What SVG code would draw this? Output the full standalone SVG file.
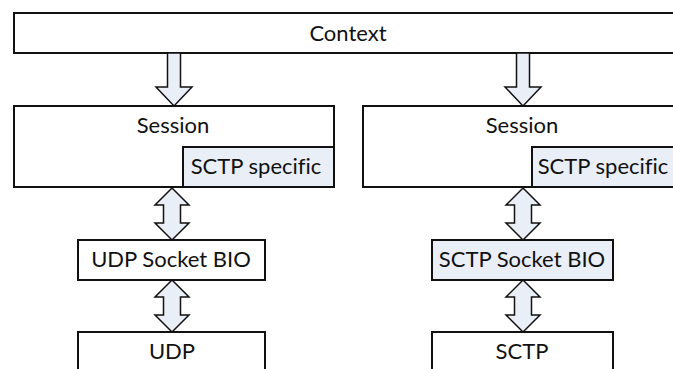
<svg xmlns="http://www.w3.org/2000/svg" width="673" height="369" viewBox="0 0 673 369">
  <style>
    .box { fill: #ffffff; stroke: #111111; stroke-width: 2; }
    .tint { fill: #e9eef7; stroke: #111111; stroke-width: 2; }
    .arrow { fill: #e9eef7; stroke: #111111; stroke-width: 1.5; stroke-linejoin: miter; }
    text { font-family: Lato, "Liberation Sans", sans-serif; font-size: 22px; fill: #111111; text-anchor: middle; font-variant-ligatures: none; }
  </style>
  <defs>
    <!-- down arrow, tip at origin -->
    <path id="down" d="M -6.5 -53 L 6.5 -53 L 6.5 -19 L 18 -19 L 0 0 L -18 -19 L -6.5 -19 Z"/>
    <!-- two-way vertical arrow, top tip at origin, 52 tall -->
    <path id="both" d="M 0 0 L 17 17 L 8.5 17 L 8.5 35 L 17 35 L 0 52 L -17 35 L -8.5 35 L -8.5 17 L -17 17 Z"/>
  </defs>

  <g id="context">
    <rect class="box" x="14" y="13" width="680" height="40"/>
    <text x="348" y="41">Context</text>
  </g>

  <g id="session-left">
    <rect class="box" x="14" y="106" width="320" height="81"/>
    <text x="173" y="133">Session</text>
  </g>
  <g id="sctp-specific-left">
    <rect class="tint" x="183" y="147" width="151" height="40"/>
    <text x="256" y="174">SCTP specific</text>
  </g>

  <g id="session-right">
    <rect class="box" x="363" y="106" width="330" height="81"/>
    <text x="522" y="133">Session</text>
  </g>
  <g id="sctp-specific-right">
    <rect class="tint" x="532" y="147" width="160" height="40"/>
    <text x="603" y="174">SCTP specific</text>
  </g>

  <g id="udp-socket-bio">
    <rect class="box" x="78" y="240" width="187" height="40"/>
    <text x="171" y="267">UDP Socket BIO</text>
  </g>
  <g id="sctp-socket-bio">
    <rect class="tint" x="432" y="240" width="181" height="40"/>
    <text x="522" y="267">SCTP Socket BIO</text>
  </g>

  <g id="udp">
    <rect class="box" x="78" y="332" width="187" height="60"/>
    <text x="172" y="359">UDP</text>
  </g>
  <g id="sctp">
    <rect class="box" x="432" y="332" width="181" height="60"/>
    <text x="522" y="359">SCTP</text>
  </g>

  <g id="connectors">
    <use href="#down" class="arrow" x="174" y="106"/>
    <use href="#down" class="arrow" x="523" y="106"/>
    <use href="#both" class="arrow" x="172" y="188"/>
    <use href="#both" class="arrow" x="523" y="188"/>
    <use href="#both" class="arrow" x="172" y="280"/>
    <use href="#both" class="arrow" x="523" y="280"/>
  </g>
</svg>
